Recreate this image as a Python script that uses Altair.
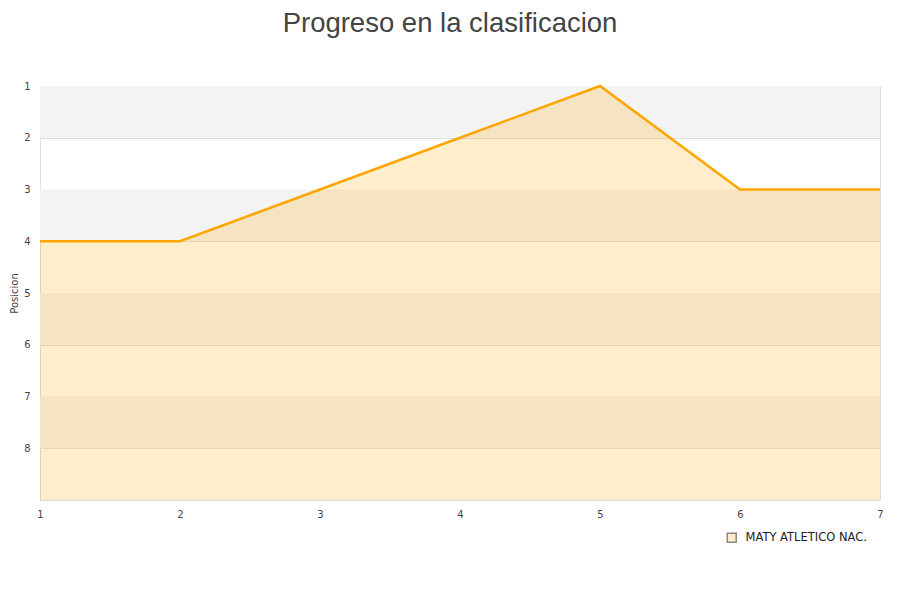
import altair as alt
import pandas as pd

jornadas = [1, 2, 3, 4, 5, 6, 7]
posiciones = [4, 4, 3, 2, 1, 3, 3]
equipo = "MATY ATLETICO NAC."
band_start = [1, 3, 5, 7]
band_end = [2, 4, 6, 8]

df = pd.DataFrame({"jornada": jornadas, "posicion": posiciones, "equipo": [equipo] * len(jornadas)})
bands = pd.DataFrame({"y1": band_start, "y2": band_end})

yscale = alt.Scale(domain=[1, 9], reverse=True, nice=False, zero=False)
xscale = alt.Scale(domain=[1, 7], nice=False, zero=False)

band_layer = alt.Chart(bands).mark_rect(color="#f3f3f3").encode(
    y=alt.Y("y1:Q", scale=yscale),
    y2="y2:Q",
    x=alt.value(0),
    x2=alt.value(840),
)

area = alt.Chart(df).mark_area(opacity=0.2, color="#ffa500").encode(
    x=alt.X("jornada:Q", scale=xscale,
            axis=alt.Axis(values=jornadas, title=None, grid=False, ticks=False, domain=False,
                          labelColor="#444", labelFontSize=10, labelPadding=9,
                          labelFont="DejaVu Sans", labelFlush=False, format="d")),
    y=alt.Y("posicion:Q", scale=yscale,
            axis=alt.Axis(values=list(range(1, 9)), title="Posicion", grid=True,
                          gridColor="#dddddd", ticks=False, domain=False, labelColor="#444",
                          labelFontSize=10, labelFont="DejaVu Sans", labelPadding=10,
                          labelFlush=False, titleFont="DejaVu Sans", titleFontSize=10,
                          titleFontWeight="normal", titleColor="#444",
                          titleX=-21, titleY=207, titleAngle=270, titleAlign="center",
                          titleBaseline="bottom", format="d")),
    y2=alt.datum(9),
)

legend_layer = alt.Chart(df).mark_square(opacity=1, stroke="#888", strokeWidth=1, size=80).encode(
    x=alt.X("jornada:Q", scale=xscale),
    y=alt.Y("posicion:Q", scale=yscale),
    fill=alt.Fill("equipo:N", scale=alt.Scale(domain=[equipo], range=["#ffeccc"]),
                  legend=alt.Legend(title=None, orient="none", legendX=686, legendY=446,
                                    symbolSize=80, labelFont="DejaVu Sans", labelFontSize=11.5,
                                    labelColor="#222", labelOffset=8)),
).transform_filter("datum.jornada > 100")

line = alt.Chart(df).mark_line(color="#ffa500", strokeWidth=2.5).encode(
    x=alt.X("jornada:Q", scale=xscale),
    y=alt.Y("posicion:Q", scale=yscale),
)

chart = alt.layer(band_layer, area, line, legend_layer).properties(
    width=840, height=414,
    title=alt.TitleParams("Progreso en la clasificacion", fontSize=27.5, font="Liberation Sans",
                          fontWeight="normal", color="#444", anchor="middle", dx=-10, offset=44),
    autosize=alt.AutoSizeParams(type="none"),
    padding={"left": 32, "top": 78, "right": 12, "bottom": 80},
).configure_view(stroke="#dddddd").configure(background="white")

chart.save("out.html", embed_options={"renderer": "svg", "actions": False})
